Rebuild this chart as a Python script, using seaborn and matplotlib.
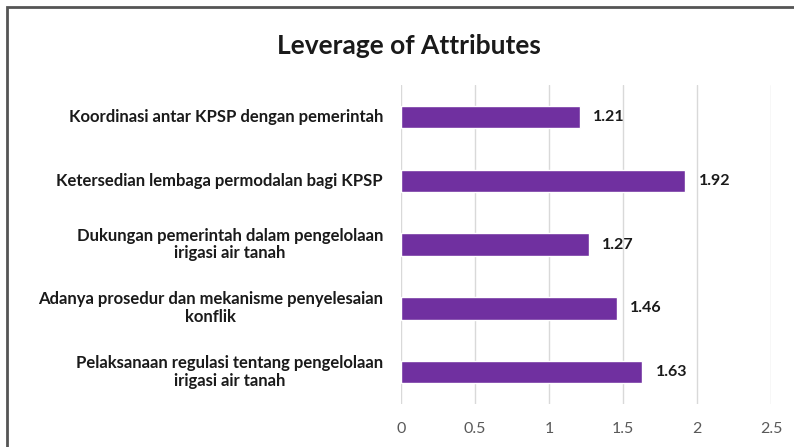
import matplotlib
matplotlib.use("Agg")
import matplotlib.pyplot as plt
import matplotlib.transforms as mtransforms
import seaborn as sns
import pandas as pd
from matplotlib.patches import Rectangle

# Data
attributes = [
    "Koordinasi antar KPSP dengan pemerintah",
    "Ketersedian lembaga permodalan bagi KPSP",
    "Dukungan pemerintah dalam pengelolaan\nirigasi air tanah",
    "Adanya prosedur dan mekanisme penyelesaian\nkonflik",
    "Pelaksanaan regulasi tentang pengelolaan\nirigasi air tanah",
]
leverage = [1.21, 1.92, 1.27, 1.46, 1.63]
x_ticks = [0, 0.5, 1, 1.5, 2, 2.5]
x_tick_labels = ["0", "0.5", "1", "1.5", "2", "2.5"]

df = pd.DataFrame({"attribute": attributes, "leverage": leverage})

sns.set_theme(style="white")
plt.rcParams["font.family"] = ["Lato", "DejaVu Sans"]

fig = plt.figure(figsize=(7.94, 4.47), dpi=100)
ax = fig.add_axes([0.505, 0.096, 0.466, 0.714])

sns.barplot(data=df, x="leverage", y="attribute", color="#7030A0",
            width=0.35, saturation=1, ax=ax, zorder=3)

ax.set_xlim(0, 2.5)
ax.set_xticks(x_ticks)
ax.set_xticklabels(x_tick_labels, fontsize=11.5, color="#595959")
ax.set_yticklabels([])
ax.set_xlabel("")
ax.set_ylabel("")
ax.tick_params(axis="y", length=0)
ax.tick_params(axis="x", length=0, pad=13)

# category labels, centred multi-line like the original
lab_tr = mtransforms.offset_copy(ax.get_yaxis_transform(), fig=fig, x=-13, units="points")
for i, name in enumerate(attributes):
    ax.text(0, i, name, transform=lab_tr, ha="right", va="center",
            multialignment="center", linespacing=1.15,
            fontsize=12, fontweight="bold", color="#1a1a1a")

ax.grid(axis="x", color="#d9d9d9", linewidth=1, zorder=0)
for s in ax.spines.values():
    s.set_visible(False)

for i, v in enumerate(leverage):
    ax.text(v + 0.09, i, f"{v:.2f}", va="center", ha="left",
            fontsize=11.5, fontweight="bold", color="#1a1a1a")

fig.text(0.515, 0.897, "Leverage of Attributes", ha="center", va="center",
         fontsize=19, fontweight="bold", color="#1a1a1a")

# chart border (clipped at right and bottom)
fig.patches.append(Rectangle((7 / 794, -0.1), 1.2, 1 - 7 / 447 + 0.1,
                             transform=fig.transFigure, fill=False,
                             edgecolor="#555555", linewidth=2))

fig.savefig("out.png", dpi=100)
